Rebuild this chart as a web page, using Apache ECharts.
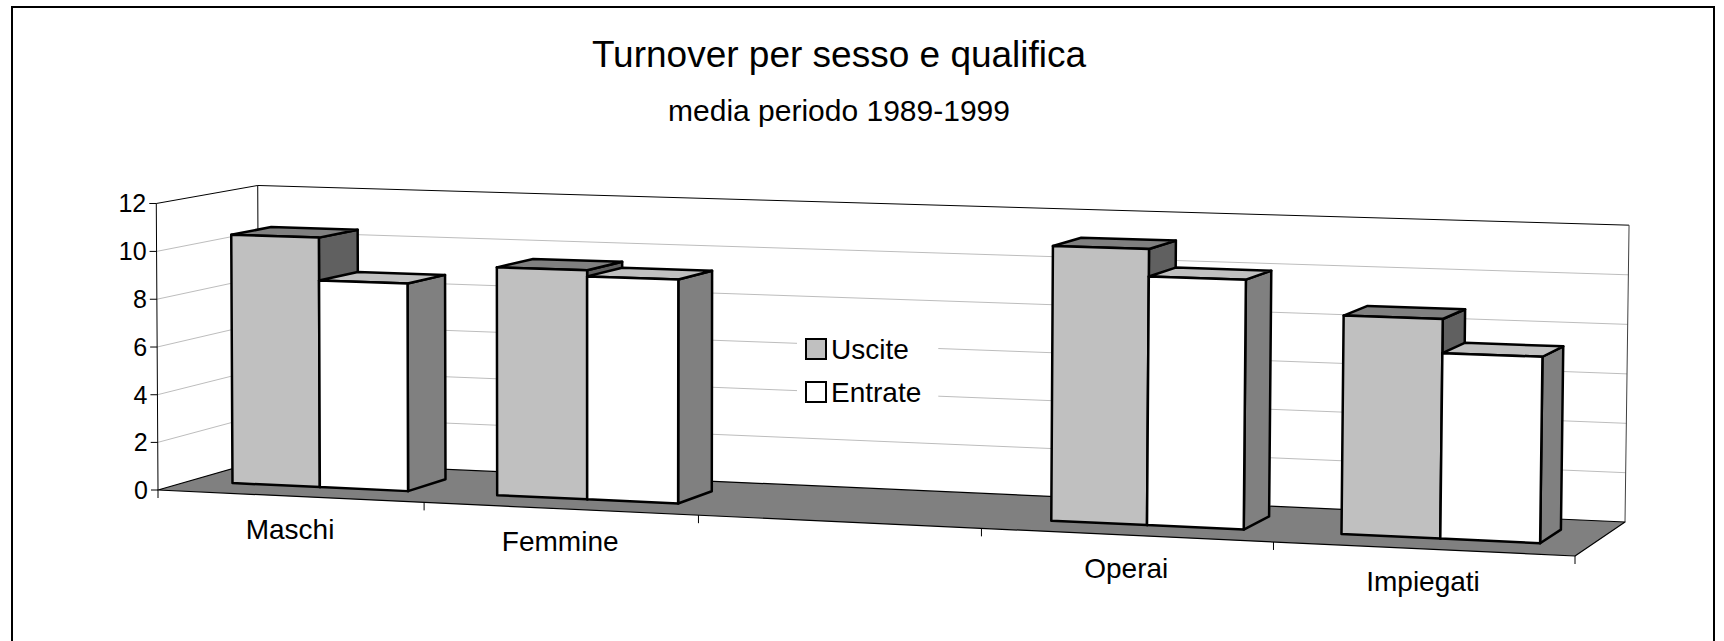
<!DOCTYPE html>
<html><head><meta charset="utf-8">
<script src="https://cdn.jsdelivr.net/npm/echarts/dist/echarts.min.js"></script>
<style>html,body{margin:0;padding:0;background:#fff}#c{width:1724px;height:641px}</style>
</head><body><div id="c"></div>
<script>
// ---------------- data ----------------
const categories = ['Maschi', 'Femmine', '', 'Operai', 'Impiegati'];
const uscite  = [10.5, 9.5, null, 11.1, 8.7];
const entrate = [8.7, 9.25, null, 10.0, 7.35];
const yTicks = [0, 2, 4, 6, 8, 10, 12];
const seriesNames = ['Uscite', 'Entrate'];
const titleText = 'Turnover per sesso e qualifica';
const subtitleText = 'media periodo 1989-1999';

// ---------------- layout / camera ----------------
const FONT = '"Liberation Sans", Arial, sans-serif';
const FLOOR = { fl: [158, 490], fr: [1575, 556], bl: [259, 461], br: [1625, 522] };
const WALL_TOPS = [ { u: 0, w: 0, p: [155, 204] }, { u: 0, w: 1, p: [259, 187] }, { u: 1, w: 1, p: [1629, 223] } ];
const BAR_DEPTH = [0.3, 0.7];
const BAR_SLOTS = [[1 / 6, 1 / 2], [1 / 2, 5 / 6]];
const FACE = [
  { front: '#C0C0C0', top: '#808080', side: '#606060' },
  { front: '#FFFFFF', top: '#C0C0C0', side: '#808080' }
];

function solve3(A, B) {
  const m = A.map((r, i) => r.concat([B[i]]));
  for (let i = 0; i < 3; i++) {
    let p = i; for (let k = i + 1; k < 3; k++) if (Math.abs(m[k][i]) > Math.abs(m[p][i])) p = k;
    [m[i], m[p]] = [m[p], m[i]];
    for (let k = 0; k < 3; k++) if (k !== i) {
      const fct = m[k][i] / m[i][i];
      for (let j = i; j < 4; j++) m[k][j] -= fct * m[i][j];
    }
  }
  return [m[0][3] / m[0][0], m[1][3] / m[1][1], m[2][3] / m[2][2]];
}
function buildCamera() {
  const [x0, y0] = FLOOR.fl, [x1, y1] = FLOOR.fr, [x2, y2] = FLOOR.br, [x3, y3] = FLOOR.bl;
  const dx1 = x1 - x2, dx2 = x3 - x2, dx3 = x0 - x1 + x2 - x3;
  const dy1 = y1 - y2, dy2 = y3 - y2, dy3 = y0 - y1 + y2 - y3;
  const den = dx1 * dy2 - dx2 * dy1;
  const g = (dx3 * dy2 - dx2 * dy3) / den, h = (dx1 * dy3 - dx3 * dy1) / den;
  const a = x1 - x0 + g * x1, b = x3 - x0 + h * x3, c = x0;
  const d = y1 - y0 + g * y1, e = y3 - y0 + h * y3, f = y0;
  const A = [[0, 0, 0], [0, 0, 0], [0, 0, 0]], B = [0, 0, 0];
  const add = (r, q) => { for (let i = 0; i < 3; i++) { B[i] += r[i] * q; for (let j = 0; j < 3; j++) A[i][j] += r[i] * r[j]; } };
  WALL_TOPS.forEach(t => {
    const d0 = g * t.u + h * t.w + 1, nx = a * t.u + b * t.w + c, ny = d * t.u + e * t.w + f;
    add([1, 0, -t.p[0]], t.p[0] * d0 - nx);
    add([0, 1, -t.p[1]], t.p[1] * d0 - ny);
  });
  const [a1, a2, cv] = solve3(A, B);
  return function (u, w, v) {
    const q = g * u + h * w + 1 + cv * v;
    return [(a * u + b * w + c + a1 * v) / q, (d * u + e * w + f + a2 * v) / q];
  };
}
const P = buildCamera();

// map data space (through the hidden axes) to normalized u / v
function mapper(api) {
  const n = categories.length;
  const bw = api.size([1, 0])[0];
  const x0 = api.coord([0, 0])[0] - bw / 2;
  const x1 = api.coord([n - 1, 0])[0] + bw / 2;
  const yb = api.coord([0, yTicks[0]])[1];
  const yt = api.coord([0, yTicks[yTicks.length - 1]])[1];
  return {
    u: (ci, frac) => (api.coord([ci, 0])[0] - bw / 2 + frac * bw - x0) / (x1 - x0),
    v: (val) => (yb - api.coord([0, val])[1]) / (yb - yt)
  };
}
function poly(pts, fill, stroke, lw) {
  return { type: 'polygon', shape: { points: pts }, style: { fill: fill, stroke: stroke || 'none', lineWidth: lw || 0, lineJoin: 'round' } };
}
function seg(p, q, stroke, lw) {
  return { type: 'line', shape: { x1: p[0], y1: p[1], x2: q[0], y2: q[1] }, style: { stroke: stroke, lineWidth: lw } };
}
function txt(s, x, y, size, align) {
  return { type: 'text', style: { text: s, x: x, y: y, fill: '#000', font: size + 'px ' + FONT, align: align, verticalAlign: 'middle', textAlign: align, textVerticalAlign: 'middle' } };
}

function frameRender(params, api) {
  if (params.dataIndex !== 0) return null;
  const M = mapper(api);
  const ch = [];
  // back wall and side wall
  ch.push(poly([P(0, 1, 0), P(1, 1, 0), P(1, 1, 1), P(0, 1, 1)], '#FFFFFF'));
  ch.push(poly([P(0, 0, 0), P(0, 1, 0), P(0, 1, 1), P(0, 0, 1)], '#FFFFFF'));
  // gridlines
  yTicks.forEach(t => {
    const v = M.v(t);
    if (v > 0.001 && v < 0.999) {
      ch.push(seg(P(0, 0, v), P(0, 1, v), '#BDBDBD', 1));
      ch.push(seg(P(0, 1, v), P(1, 1, v), '#BDBDBD', 1));
    }
  });
  // wall edges
  ch.push(seg(P(0, 0, 1), P(0, 1, 1), '#000', 1));
  ch.push(seg(P(0, 1, 1), P(1, 1, 1), '#000', 1));
  ch.push(seg(P(1, 1, 1), P(1, 1, 0), '#404040', 1));
  ch.push(seg(P(0, 1, 1), P(0, 1, 0), '#000', 1));
  // floor
  ch.push(poly([P(0, 0, 0), P(1, 0, 0), P(1, 1, 0), P(0, 1, 0)], '#808080', '#000', 1.2));
  // value axis (front left edge) with ticks and labels
  ch.push(seg(P(0, 0, 0), P(0, 0, 1), '#000', 1));
  yTicks.forEach(t => {
    const p = P(0, 0, M.v(t));
    ch.push(seg([p[0] - 7, p[1]], p, '#000', 1));
    ch.push(txt(String(t), p[0] - 10, p[1], 25, 'right'));
  });
  // category ticks along the front floor edge
  for (let i = 0; i <= categories.length; i++) {
    const p = P(M.u(0, i), 0, 0);
    ch.push(seg(p, [p[0], p[1] + 8], '#000', 1));
  }
  // category labels
  categories.forEach((name, i) => {
    if (!name) return;
    const p = P(M.u(i, 0.5), 0, 0);
    ch.push(txt(name, p[0], p[1] + 33, 28, 'center'));
  });
  return { type: 'group', children: ch };
}

function barRender(sIdx) {
  return function (params, api) {
    const val = api.value(1);
    if (val == null || isNaN(val)) return null;
    const ci = api.value(0);
    const M = mapper(api);
    const u0 = M.u(ci, BAR_SLOTS[sIdx][0]), u1 = M.u(ci, BAR_SLOTS[sIdx][1]);
    const w0 = BAR_DEPTH[0], w1 = BAR_DEPTH[1];
    const v = M.v(val);
    const col = FACE[sIdx];
    const side = [P(u1, w0, 0), P(u1, w1, 0), P(u1, w1, v), P(u1, w0, v)];
    const top = [P(u0, w0, v), P(u1, w0, v), P(u1, w1, v), P(u0, w1, v)];
    const front = [P(u0, w0, 0), P(u1, w0, 0), P(u1, w0, v), P(u0, w0, v)];
    return { type: 'group', children: [
      poly(side, col.side, '#000', 2.5), poly(top, col.top, '#000', 2.5), poly(front, col.front, '#000', 2.5)
    ] };
  };
}

const chart = echarts.init(document.getElementById('c'), null, { renderer: 'svg' });
const rows = vals => categories.map((c, i) => [i, vals[i]]);
chart.setOption({
  animation: false,
  backgroundColor: '#FFFFFF',
  title: {
    text: titleText, subtext: subtitleText, left: 834, textAlign: 'center', top: 31, itemGap: 22,
    textStyle: { fontSize: 37, fontWeight: 'normal', color: '#000', fontFamily: FONT },
    subtextStyle: { fontSize: 30, color: '#000', fontFamily: FONT }
  },
  grid: { left: FLOOR.fl[0], right: 1724 - FLOOR.fr[0], top: WALL_TOPS[0].p[1], height: FLOOR.fl[1] - WALL_TOPS[0].p[1] },
  xAxis: { type: 'category', data: categories, show: false },
  yAxis: { type: 'value', min: 0, max: 12, interval: 2, show: false },
  legend: {
    orient: 'vertical', left: 797, top: 327, padding: [8, 17, 8, 8], itemGap: 15,
    backgroundColor: '#FFFFFF', itemWidth: 20, itemHeight: 20, icon: 'rect',
    textStyle: { fontSize: 28, color: '#000', fontFamily: FONT },
    data: [
      { name: seriesNames[0], itemStyle: { color: FACE[0].front, borderColor: '#000', borderWidth: 2 } },
      { name: seriesNames[1], itemStyle: { color: FACE[1].front, borderColor: '#000', borderWidth: 2 } }
    ]
  },
  graphic: [{ type: 'rect', silent: true, z: 0, shape: { x: 12, y: 7, width: 1702, height: 680 }, style: { fill: 'none', stroke: '#000', lineWidth: 2 } }],
  series: [
    { type: 'custom', name: 'frame', z: 1, clip: false, silent: true, renderItem: frameRender, data: [[0, 0]], encode: { x: 0, y: 1 } },
    { type: 'custom', name: seriesNames[0], z: 3, clip: false, renderItem: barRender(0), data: rows(uscite), encode: { x: 0, y: 1 }, itemStyle: { color: FACE[0].front } },
    { type: 'custom', name: seriesNames[1], z: 4, clip: false, renderItem: barRender(1), data: rows(entrate), encode: { x: 0, y: 1 }, itemStyle: { color: FACE[1].front } }
  ]
});
</script>
</body></html>
